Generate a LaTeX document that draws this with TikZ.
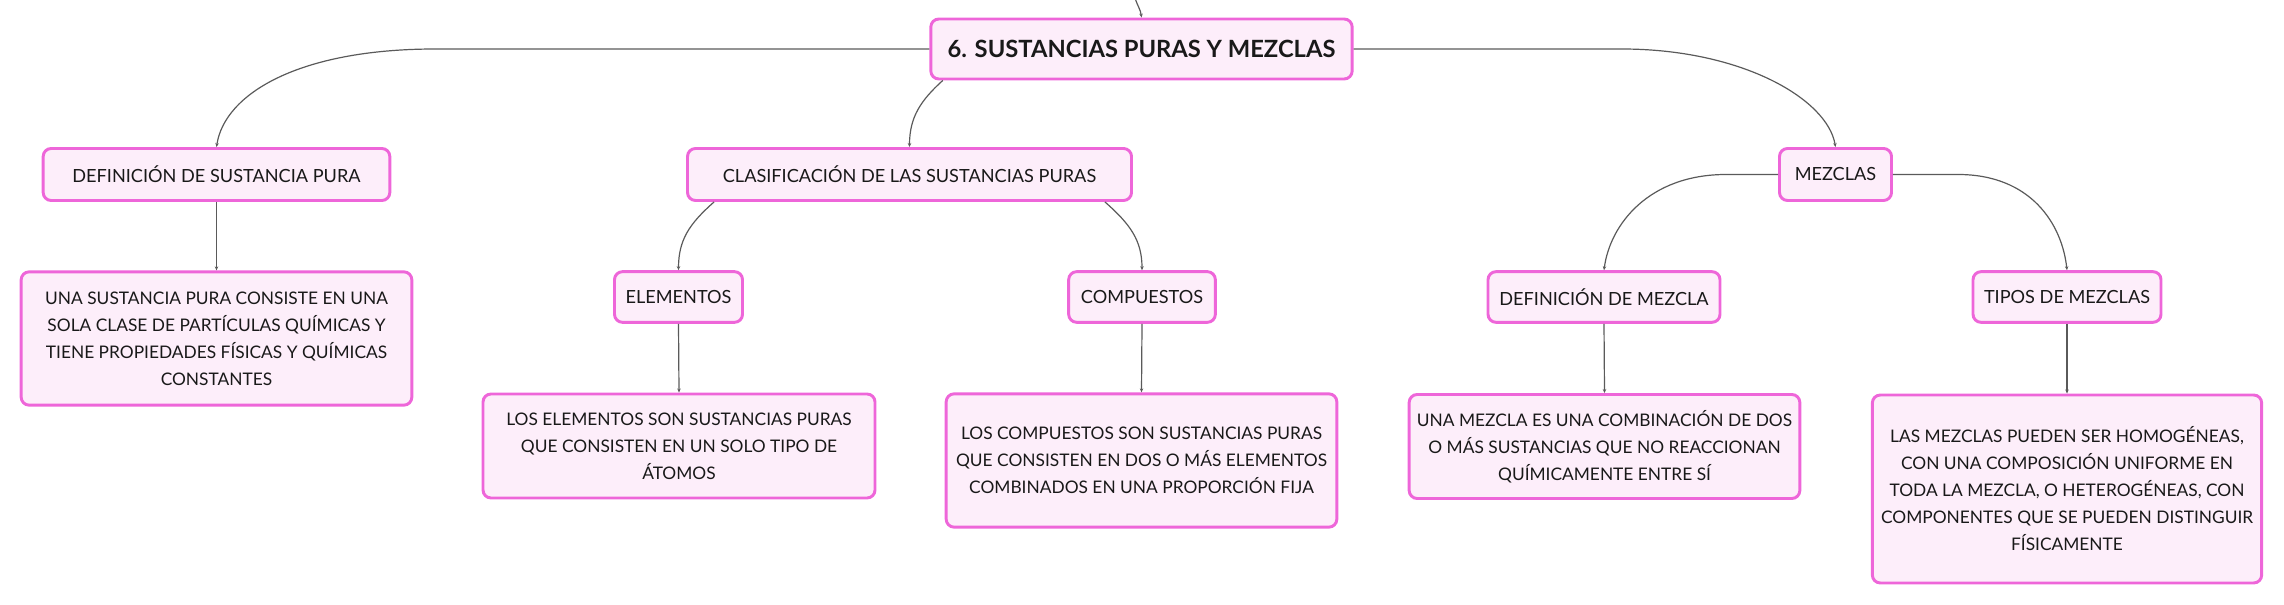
\documentclass[tikz,border=0pt]{standalone}
\usepackage{fontspec}
\setmainfont{Lato}
\usetikzlibrary{arrows.meta}
\definecolor{boxline}{HTML}{EE66D9}
\definecolor{boxfill}{HTML}{FDEEFA}
\definecolor{linkgray}{HTML}{5A5A5A}
\begin{document}
\begin{tikzpicture}[x=0.75pt,y=-0.75pt,
    topic/.style={draw=boxline,fill=boxfill,line width=2.2pt,rounded corners=6pt,
      inner sep=0pt,align=center,text=black!90,
      font=\fontsize{13.6}{20.25}\selectfont},
    roottopic/.style={topic,font=\fontsize{17.8}{22}\selectfont\bfseries},
    notetopic/.style={topic,font=\fontsize{13}{20.25}\selectfont},
    link/.style={draw=linkgray,line width=0.9pt,-{Stealth[length=3pt,width=2.6pt]}}]
      \useasboundingbox (0,0) rectangle (2284,605);
      \node[roottopic,minimum width=316pt,minimum height=45pt] (t) at (1141.5,49) {6. SUSTANCIAS PURAS Y MEZCLAS};
      \node[topic,minimum width=260pt,minimum height=39pt] (dp) at (216.5,174.5) {DEFINICIÓN DE SUSTANCIA PURA};
      \node[topic,minimum width=333pt,minimum height=39pt] (cl) at (909.5,174.5) {CLASIFICACIÓN DE LAS SUSTANCIAS PURAS};
      \node[topic,minimum width=84pt,minimum height=39pt] (mz) at (1835.5,174.5) {MEZCLAS};
      \node[topic,minimum width=96pt,minimum height=38pt] (el) at (678.5,297) {ELEMENTOS};
      \node[topic,minimum width=110pt,minimum height=38pt] (co) at (1142,297) {COMPUESTOS};
      \node[topic,minimum width=174pt,minimum height=38pt] (dm) at (1604,297) {DEFINICIÓN DE MEZCLA};
      \node[topic,minimum width=141pt,minimum height=38pt] (tm) at (2067,297) {TIPOS DE MEZCLAS};
      \node[notetopic,minimum width=293pt,minimum height=100pt] (dpt) at (216.5,338.5) {UNA SUSTANCIA PURA CONSISTE EN UNA\\SOLA CLASE DE PARTÍCULAS QUÍMICAS Y\\TIENE PROPIEDADES FÍSICAS Y QUÍMICAS\\CONSTANTES};
      \node[notetopic,minimum width=294pt,minimum height=78pt] (elt) at (679,446) {LOS ELEMENTOS SON SUSTANCIAS PURAS\\QUE CONSISTEN EN UN SOLO TIPO DE\\ÁTOMOS};
      \node[notetopic,minimum width=293pt,minimum height=100pt] (cot) at (1141.5,460.5) {LOS COMPUESTOS SON SUSTANCIAS PURAS\\QUE CONSISTEN EN DOS O MÁS ELEMENTOS\\COMBINADOS EN UNA PROPORCIÓN FIJA};
      \node[notetopic,minimum width=293pt,minimum height=78pt] (dmt) at (1604.5,446.5) {UNA MEZCLA ES UNA COMBINACIÓN DE DOS\\O MÁS SUSTANCIAS QUE NO REACCIONAN\\QUÍMICAMENTE ENTRE SÍ};
      \node[notetopic,minimum width=292pt,minimum height=141pt] (tmt) at (2067,489) {LAS MEZCLAS PUEDEN SER HOMOGÉNEAS,\\CON UNA COMPOSICIÓN UNIFORME EN\\TODA LA MEZCLA, O HETEROGÉNEAS, CON\\COMPONENTES QUE SE PUEDEN DISTINGUIR\\FÍSICAMENTE};
      \coordinate (up) at (1135,-2);
      \draw[link] (up) .. controls +(3,9) and +(-1,-8) .. (t.north);
      \draw[link] (t.west) -- ++(-494,0) .. controls +(-137,0) and +(8,-53) .. (dp.north);
      \draw[link] (t.-171) .. controls +(-22,20) and +(0,-30) .. (cl.north);
      \draw[link] (t.east) -- ++(268,0) .. controls +(120,0) and +(-8,-48) .. (mz.north);
      \draw[link] (cl.-172) .. controls +(-25,22) and +(0,-30) .. (el.north);
      \draw[link] (cl.-8) .. controls +(25,22) and +(0,-30) .. (co.north);
      \draw[link] (mz.west) -- ++(-52,0) .. controls +(-77,0) and +(6,-46) .. (dm.north);
      \draw[link] (mz.east) -- ++(65,0) .. controls +(73,0) and +(-5,-46) .. (tm.north);
      \draw[link] (dp.south) -- (dpt.north);
      \draw[link] (el.south) -- (elt.north);
      \draw[link] (co.south) -- (cot.north);
      \draw[link] (dm.south) -- (dmt.north);
      \draw[link] (tm.south) -- (tmt.north);
    \end{tikzpicture}
\end{document}
